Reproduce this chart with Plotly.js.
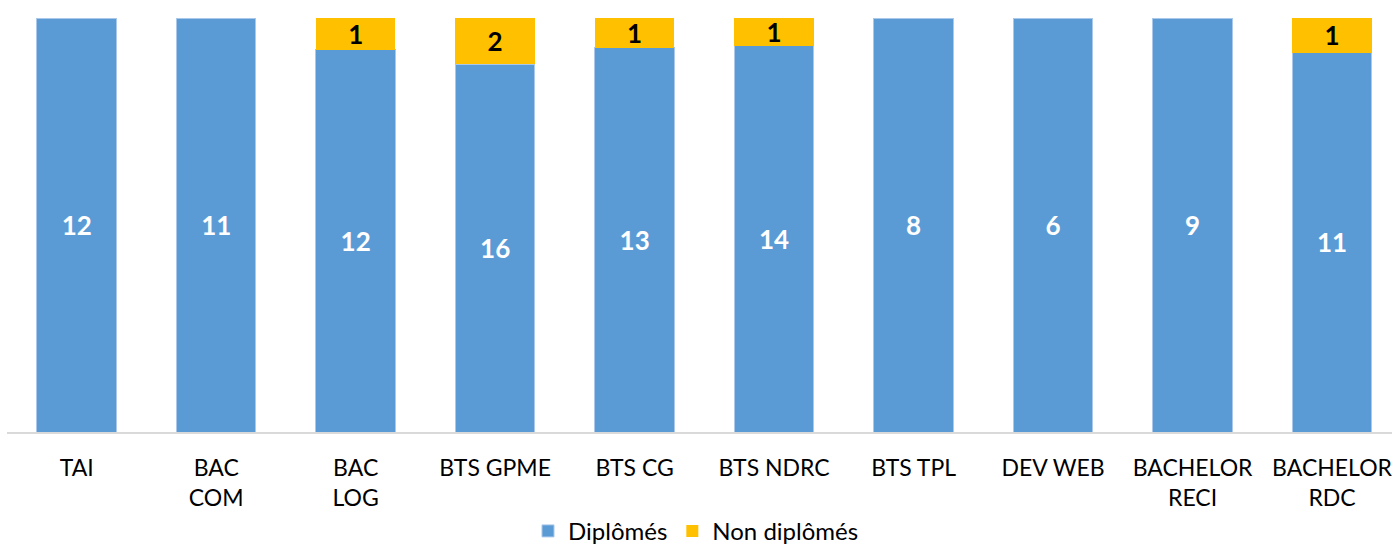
<!DOCTYPE html>
<html>
<head>
<meta charset="utf-8">
<script src="https://cdn.plot.ly/plotly-3.0.1.min.js"></script>
<style>html,body{margin:0;padding:0;background:#fff;}#chart{width:1392px;height:550px;}</style>
</head>
<body>
<div id="chart"></div>
<script>
const categories = ["TAI", "BAC<br>COM", "BAC<br>LOG", "BTS GPME", "BTS CG", "BTS NDRC", "BTS TPL", "DEV WEB", "BACHELOR<br>RECI", "BACHELOR<br>RDC"];
const diplomes = [12, 11, 12, 16, 13, 14, 8, 6, 9, 11];
const nonDiplomes = [0, 0, 1, 2, 1, 1, 0, 0, 0, 1];

const FONT = "Lato, 'Open Sans', sans-serif";
const labelOf = v => v === 0 ? "" : String(v);

const traces = [
  {
    type: "bar", name: "Diplômés", x: categories, y: diplomes,
    text: diplomes.map(labelOf), textposition: "inside", insidetextanchor: "middle",
    textangle: 0, constraintext: "none",
    textfont: {family: FONT, size: 26, color: "#ffffff", weight: 700},
    marker: {color: "#5b9bd5", line: {color: "#a9c8ea", width: 1}},
    hoverinfo: "skip"
  },
  {
    type: "bar", name: "Non diplômés", x: categories, y: nonDiplomes,
    text: nonDiplomes.map(labelOf), textposition: "inside", insidetextanchor: "middle",
    textangle: 0, constraintext: "none",
    textfont: {family: FONT, size: 26, color: "#000000", weight: 700},
    marker: {color: "#ffc000", line: {width: 0}},
    hoverinfo: "skip"
  }
];

const layout = {
  width: 1392, height: 550,
  margin: {l: 7, r: 0, t: 18, b: 118},
  barmode: "stack", barnorm: "percent", bargap: 0.43,
  paper_bgcolor: "#ffffff", plot_bgcolor: "#ffffff",
  font: {family: FONT, color: "#000000"},
  showlegend: true,
  legend: {orientation: "h", x: 0.5, xanchor: "center", xref: "container",
           y: 0.034, yanchor: "middle", yref: "container",
           font: {family: FONT, size: 24, color: "#000"}, itemwidth: 30, traceorder: "normal"},
  xaxis: {
    range: [-0.5, 9.43], showline: true, linecolor: "#d9d9d9", linewidth: 2,
    ticks: "", tickfont: {family: FONT, size: 23, color: "#000"}, automargin: false,
    ticklabelstandoff: 14, showgrid: false, zeroline: false, fixedrange: true, tickangle: 0
  },
  yaxis: {range: [0, 100], visible: false, showgrid: false, zeroline: false, fixedrange: true}
};

Plotly.newPlot("chart", traces, layout, {displayModeBar: false, staticPlot: true});
</script>
</body>
</html>
